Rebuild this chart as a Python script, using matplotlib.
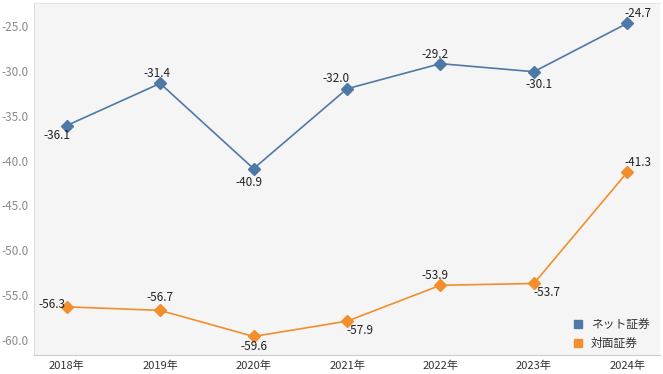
import matplotlib.pyplot as plt

plt.rcParams['font.family'] = ['Noto Sans CJK JP', 'DejaVu Sans']

# data
years = ['2018年', '2019年', '2020年', '2021年', '2022年', '2023年', '2024年']
net = [-36.1, -31.4, -40.9, -32.0, -29.2, -30.1, -24.7]
face = [-56.3, -56.7, -59.6, -57.9, -53.9, -53.7, -41.3]
series_names = ['ネット証券', '対面証券']
yticks = [-25.0, -30.0, -35.0, -40.0, -45.0, -50.0, -55.0, -60.0]

# label offsets in pixels (dx, dy)
net_off = [(-10, -10), (-3, 10), (-5, -14), (-11, 10), (-5, 9), (5, -13), (11, 10)]
face_off = [(-15, 2), (0, 13), (0, -10), (13, -9), (-5, 10), (13, -9), (11, 10)]

blue = '#4e79a7'
orange = '#f28e2b'

fig = plt.figure(figsize=(6.63, 3.74), dpi=100)
ax = fig.add_axes([34 / 663, 19 / 374, 626 / 663, 352 / 374])
ax.set_facecolor('#f5f5f5')

x = range(len(years))
ax.plot(x, net, color=blue, lw=1.2, marker='D', ms=6, label=series_names[0])
ax.plot(x, face, color=orange, lw=1.2, marker='D', ms=6, label=series_names[1])

for xi, v, o in zip(x, net, net_off):
    ax.annotate(f'{v:.1f}', (xi, v), xytext=o, textcoords='offset pixels',
                ha='center', va='center', fontsize=8.5, color='#222222')
for xi, v, o in zip(x, face, face_off):
    ax.annotate(f'{v:.1f}', (xi, v), xytext=o, textcoords='offset pixels',
                ha='center', va='center', fontsize=8.5, color='#222222')

ax.set_xlim(-0.35, 6.35)
ax.set_ylim(-61.67, -22.44)
ax.set_xticks(list(x))
ax.set_xticklabels(years, fontsize=8, color='#333333')
ax.set_yticks(yticks)
ax.set_yticklabels([f'{t:.1f}' for t in yticks], fontsize=8.5, color='#8a8a8a')
ax.tick_params(length=0, pad=4)

ax.spines['right'].set_visible(False)
ax.spines['top'].set_color('#e6e6e6')
ax.spines['left'].set_color('#dddddd')
ax.spines['bottom'].set_color('#cccccc')

handles = [plt.Line2D([], [], ls='', marker='s', ms=6, color=c) for c in (blue, orange)]
ax.legend(handles, series_names, loc='lower right', frameon=False, fontsize=8.5,
          handletextpad=0.1, labelspacing=0.45, bbox_to_anchor=(1.0, -0.015),
          labelcolor='#333333')

fig.savefig('out.png', dpi=100)
